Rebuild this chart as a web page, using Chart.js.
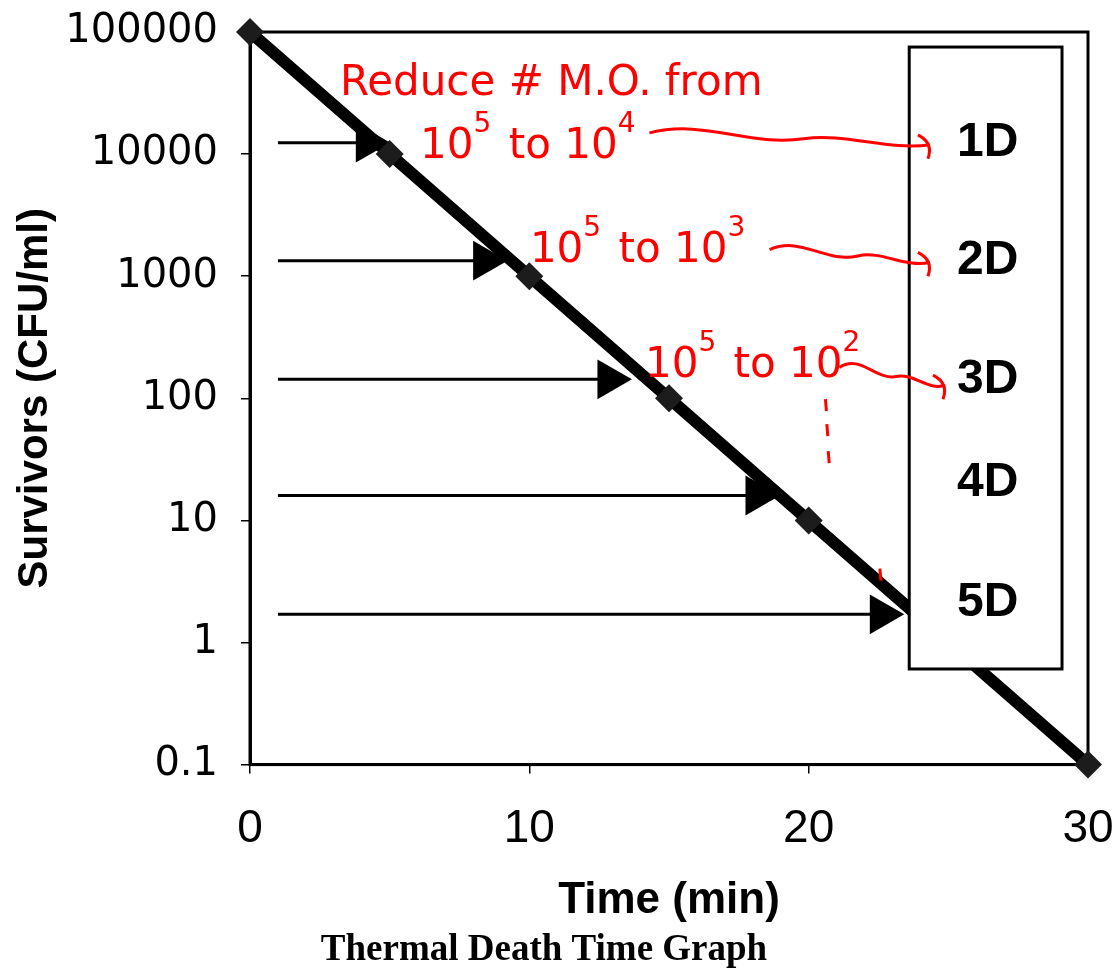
<!DOCTYPE html>
<html>
<head>
<meta charset="utf-8">
<script src="https://cdn.jsdelivr.net/npm/chart.js@4.4.0/dist/chart.umd.min.js"></script>
<style>html,body{margin:0;padding:0;background:#fff}</style>
</head>
<body>
<canvas id="tdtChart" width="1114" height="973"></canvas>
<script>
// survival curve (log scale)
var times = [0, 5, 10, 15, 20, 25, 30];
var survivors = [100000, 10000, 1000, 100, 10, 1, 0.1];

// horizontal arrows: level, start time, head centre time
var arrowLevels = [12400, 1340, 143, 16, 1.7];
var arrowStart = [1, 1, 1, 1, 1];
var arrowHead = [4.2, 8.4, 12.85, 18.15, 22.6];

// ticks
var xTicks = [0, 10, 20, 30];
var yTicks = [0.1, 1, 10, 100, 1000, 10000, 100000];

// D-value box labels
var dLabels = ['1D', '2D', '3D', '4D', '5D'];
var dLevels = [12400, 1340, 143, 20.5, 2.1];

var ctx = document.getElementById('tdtChart').getContext('2d');

var datasets = [{
    data: times.map(function (t, i) { return {x: t, y: survivors[i]}; }),
    borderColor: '#000',
    borderWidth: 12,
    pointStyle: 'rectRot',
    pointRadius: 14,
    pointBackgroundColor: '#1c1c1c',
    pointBorderWidth: 0,
    clip: false
}];
arrowLevels.forEach(function (lvl, i) {
    datasets.push({
        data: [{x: arrowStart[i], y: lvl}, {x: arrowHead[i], y: lvl}],
        borderColor: '#000',
        borderWidth: 3,
        pointStyle: 'triangle',
        pointRotation: 90,
        pointRadius: [0, 23],
        pointBackgroundColor: '#000',
        pointBorderWidth: 0,
        clip: false
    });
});

// frame around the plot
var framePlugin = {
    id: 'frame',
    beforeDatasetsDraw: function (chart) {
        var a = chart.chartArea, c = chart.ctx;
        c.save();
        c.strokeStyle = '#000';
        c.lineWidth = 3;
        c.strokeRect(a.left, a.top, a.right - a.left, a.bottom - a.top);
        c.restore();
    }
};

// box with D labels + red handwritten notes
var notesPlugin = {
    id: 'notes',
    afterDatasetsDraw: function (chart) {
        var c = chart.ctx, xs = chart.scales.x, ys = chart.scales.y;
        function px(t, v) { return [xs.getPixelForValue(t), ys.getPixelForValue(v)]; }
        c.save();

        // box
        var p0 = px(23.6, 75300), p1 = px(29.07, 0.607);
        c.fillStyle = '#fff';
        c.fillRect(p0[0], p0[1], p1[0] - p0[0], p1[1] - p0[1]);
        c.strokeStyle = '#000';
        c.lineWidth = 3;
        c.strokeRect(p0[0], p0[1], p1[0] - p0[0], p1[1] - p0[1]);
        c.fillStyle = '#000';
        c.font = 'bold 48px "Liberation Sans", Arial, sans-serif';
        c.textAlign = 'center';
        c.textBaseline = 'middle';
        var cx = (p0[0] + p1[0]) / 2 + 2;
        dLabels.forEach(function (lab, i) {
            c.fillText(lab, cx, ys.getPixelForValue(dLevels[i]));
        });

        // red notes
        c.fillStyle = '#f00';
        c.strokeStyle = '#f00';
        c.textAlign = 'left';
        c.textBaseline = 'alphabetic';
        function write(t, v, parts) {
            var p = px(t, v), x = p[0];
            parts.forEach(function (s) {
                var sup = s.charAt(0) === '^';
                var txt = sup ? s.slice(1) : s;
                c.font = (sup ? '28px' : '42px') + ' "DejaVu Sans", sans-serif';
                c.fillText(txt, x, p[1] - (sup ? 26 : 0));
                x += c.measureText(txt).width + (sup ? 4 : 0);
            });
        }
        write(3.22, 30550, ['Reduce # M.O. from']);
        write(6.09, 9330, ['10', '^5', ' to 10', '^4']);
        write(10.02, 1318, ['10', '^5', ' to 10', '^3']);
        write(14.14, 148.6, ['10', '^5', ' to 10', '^2']);

        function wave(t0, v0, t1, v1) {
            var a = px(t0, v0), b = px(t1, v1);
            var dx = b[0] - a[0];
            c.lineWidth = 3;
            c.beginPath();
            c.moveTo(a[0], a[1]);
            c.bezierCurveTo(a[0] + dx * 0.2, a[1] - 14, a[0] + dx * 0.35, a[1] + 14, a[0] + dx * 0.55, (a[1] + b[1]) / 2);
            c.bezierCurveTo(a[0] + dx * 0.7, b[1] - 12, a[0] + dx * 0.85, b[1] + 6, b[0], b[1]);
            c.stroke();
            c.beginPath();
            c.moveTo(b[0] - 12, b[1] - 10);
            c.quadraticCurveTo(b[0] + 4, b[1] - 2, b[0] - 2, b[1] + 14);
            c.stroke();
        }
        wave(14.3, 14930, 24.34, 11910);
        wave(18.6, 1652, 24.34, 1300);
        wave(21.1, 179, 24.88, 128);

        // dots
        [[20.6, 88], [20.65, 55], [20.7, 33], [22.55, 3.6]].forEach(function (d) {
            var p = px(d[0], d[1]);
            c.beginPath();
            c.moveTo(p[0], p[1] - 6);
            c.lineTo(p[0] + 1, p[1] + 6);
            c.stroke();
        });
        c.restore();
    }
};

new Chart(ctx, {
    type: 'line',
    data: {datasets: datasets},
    plugins: [framePlugin, notesPlugin],
    options: {
        responsive: false,
        animation: false,
        layout: {padding: {top: 32, right: 26, left: 0, bottom: 0}},
        plugins: {
            legend: {display: false},
            tooltip: {enabled: false},
            title: {
                display: true,
                position: 'bottom',
                text: 'Thermal Death Time Graph',
                color: '#000',
                font: {family: '"Liberation Serif", "Times New Roman", serif', size: 37, weight: 'bold'},
                padding: {top: 4, bottom: 0}
            }
        },
        scales: {
            x: {
                type: 'linear',
                min: 0,
                max: 30,
                afterBuildTicks: function (s) { s.ticks = xTicks.map(function (v) { return {value: v}; }); },
                afterFit: function (s) { s.height = 160; s.paddingLeft = 0; s.paddingRight = 0; },
                grid: {drawOnChartArea: false, drawTicks: true, tickLength: 9, color: '#000', lineWidth: 1.5},
                border: {display: true, color: '#000', width: 3},
                ticks: {
                    color: '#000',
                    padding: 28,
                    maxRotation: 0,
                    font: {family: '"Liberation Sans", Arial, sans-serif', size: 46}
                },
                title: {
                    display: true,
                    text: 'Time (min)',
                    color: '#000',
                    font: {family: '"Liberation Sans", Arial, sans-serif', size: 44, weight: 'bold', lineHeight: 1.0},
                    padding: {top: 0, bottom: 2}
                }
            },
            y: {
                type: 'logarithmic',
                min: 0.1,
                max: 100000,
                afterBuildTicks: function (s) { s.ticks = yTicks.map(function (v) { return {value: v}; }); },
                afterFit: function (s) { s.width = 250; s.paddingTop = 0; s.paddingBottom = 0; },
                grid: {drawOnChartArea: false, drawTicks: true, tickLength: 9, color: '#000', lineWidth: 1.5},
                border: {display: true, color: '#000', width: 3},
                ticks: {
                    color: '#000',
                    padding: 23,
                    font: {family: '"DejaVu Sans", sans-serif', size: 40},
                    callback: function (v) { return String(v); }
                },
                title: {
                    display: true,
                    text: 'Survivors (CFU/ml)',
                    color: '#000',
                    font: {family: '"Liberation Sans", Arial, sans-serif', size: 42, weight: 'bold'},
                    padding: {top: 10, bottom: 0}
                }
            }
        }
    }
});
</script>
</body>
</html>
